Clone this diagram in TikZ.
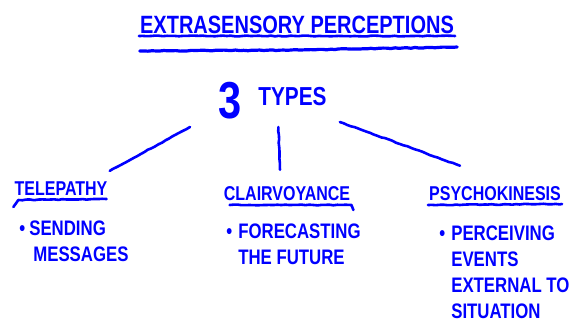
\documentclass[tikz,border=0pt]{standalone}
\usepackage{fontspec}
\usetikzlibrary{decorations.pathmorphing}
\newfontfamily\marker{Liberation Sans}[FakeStretch=0.8]
\definecolor{ink}{RGB}{0,0,255}
\tikzstyle{every node}=[text=ink,inner sep=0pt,font=\marker\bfseries]
\tikzstyle{every path}=[line width=2.6pt,line cap=round,line join=round]
\tikzstyle{shaky}=[draw=ink,decorate,decoration={random steps,segment length=4pt,amplitude=0.4pt}]
\tikzstyle{heading}=[anchor=base,font=\marker\bfseries\fontsize{20}{24}\selectfont]
\tikzstyle{bullets}=[anchor=north west,align=left,font=\marker\bfseries\fontsize{21}{26}\selectfont]

\begin{document}
\begin{tikzpicture}[x=1pt,y=-1pt]
    \pgfmathsetseed{7}
    \useasboundingbox (0,0) rectangle (575,322);

    % Title with its double underline
    \node[anchor=base,font=\marker\bfseries\fontsize{25}{30}\selectfont] (title) at (297,33) {EXTRASENSORY PERCEPTIONS};
    \draw[shaky] ([shift={(0,3)}]title.base west) -- ([shift={(0,3)}]title.base east);
    \draw[shaky,line width=3.2pt] ([shift={(1,18)}]title.base west)
    -- ([shift={(160,17)}]title.base west)
    -- ([shift={(2,14)}]title.base east);

    % 3 types
    \node[anchor=base,font=\marker\bfseries\fontsize{52}{52}\selectfont] (three) at (230,118) {3};
    \node[anchor=base west,font=\marker\bfseries\fontsize{26}{30}\selectfont] (types) at (257,105) {TYPES};

    % Headings of the three legs
    \node[heading] (telepathy) at (61,195) {TELEPATHY};
    \node[heading] (clair) at (287,200) {CLAIRVOYANCE};
    \node[heading] (psycho) at (495,200) {PSYCHOKINESIS};

    % --underlines of the headings
    \draw[shaky] ([shift={(0,12)}]telepathy.base west)
    -- ([shift={(5,5)}]telepathy.base west)
    -- ([shift={(-2,4)}]telepathy.base east);
    \draw[shaky] ([shift={(7,5)}]clair.base west)
    -- ([shift={(0,5)}]clair.base east)
    -- ([shift={(2,10)}]clair.base east);
    \draw[shaky] ([shift={(0,5)}]psycho.base west) -- ([shift={(0,4)}]psycho.base east);

    % Branches from 3 types down to the legs
    \draw[shaky] ([shift={(-40,9)}]three.base) -- ([shift={(1,-9)}]telepathy.north east);
    \draw[shaky] ([shift={(-14,22)}]types.base) -- ([shift={(-7,-15)}]clair.north);
    \draw[shaky] ([shift={(12,17)}]types.base east) -- ([shift={(-35,-19)}]psycho.north);

    % Bullet points under each heading
    \node[bullets] (sending) at (28,220) {\llap{\textbullet\hspace{4pt}}SENDING\\\hspace*{4pt}MESSAGES};
    \node[bullets] (forecast) at (237,223) {\llap{\textbullet\hspace{6pt}}FORECASTING\\THE FUTURE};
    \node[bullets] (perceive) at (450,225) {\llap{\textbullet\hspace{6pt}}PERCEIVING\\EVENTS\\EXTERNAL TO\\SITUATION};
\end{tikzpicture}
\end{document}
